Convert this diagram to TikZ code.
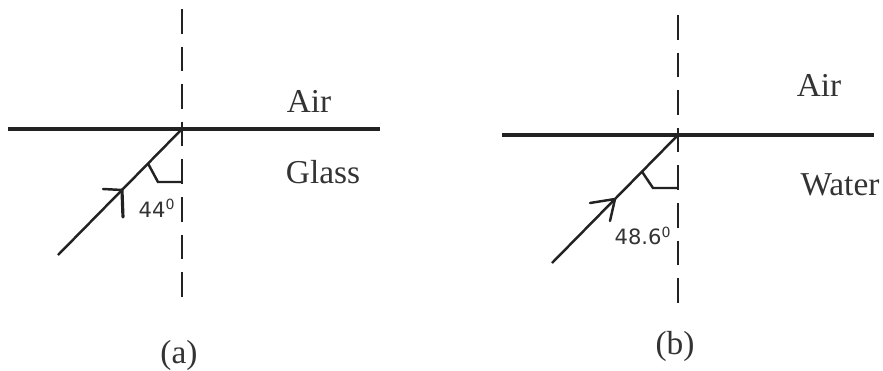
\documentclass[tikz,border=0pt]{standalone}
\usepackage{fontspec}
\setmainfont{Liberation Serif}
\newfontfamily\anglefont{DejaVu Sans}
\usepackage{xcolor}
\definecolor{ink}{HTML}{222222}
\definecolor{label}{HTML}{333333}

\begin{document}
\begin{tikzpicture}[
    x=0.02cm, y=-0.02cm,
    surface/.style={draw=ink, line width=1.9pt},
    normal/.style={draw=ink, line width=1.4pt, dash pattern=on 14pt off 7.4pt},
    ray/.style={draw=ink, line width=1.4pt},
    barb/.style={draw=ink, line width=1.4pt, line cap=round},
    medium/.style={font=\fontsize{19}{22}\selectfont, text=label, anchor=base, inner sep=0pt},
    anglab/.style={font=\anglefont\fontsize{12}{14}\selectfont, text=label, inner sep=0pt},
    panel/.style={font=\fontsize{19}{22}\selectfont, text=label, anchor=base, inner sep=0pt}
]
\useasboundingbox (0,0) rectangle (883,370);

% Panel (a): glass to air.
\coordinate (topA) at (182,9);
\coordinate (botA) at (182,305);
\coordinate (leftA) at (8,129);
\coordinate (rightA) at (380,129);
\coordinate (OA) at (182,129);
\coordinate (srcA) at (58,255);
\draw[normal] (topA) -- (botA);
\draw[surface] (leftA) -- (rightA);
\draw[ray] (srcA) -- (OA) coordinate[pos=0.516] (tipA) coordinate[pos=0.726] (markA);
\coordinate (cornerA) at (158,182);
\coordinate (footA) at (182,182);
\draw[ray] (markA) -- (cornerA) -- (footA);
\draw[barb] (tipA) -- ++(-19,-1);
\draw[barb, line width=1.8pt] (tipA) -- ++(1,27);
\node[anglab] (angA) at (157,208) {44\textsuperscript{0}};
\node[medium] (airA) at (309,112) {Air};
\node[medium] (glassA) at (323,183) {Glass};
\node[panel] (capA) at (179,363) {(a)};

% Panel (b): water to air.
\coordinate (topB) at (678,15);
\coordinate (botB) at (678,310);
\coordinate (leftB) at (502,135);
\coordinate (rightB) at (874,135);
\coordinate (OB) at (678,135);
\coordinate (srcB) at (552,263);
\draw[normal] (topB) -- (botB);
\draw[surface] (leftB) -- (rightB);
\draw[ray] (srcB) -- (OB) coordinate[pos=0.5] (tipB) coordinate[pos=0.714] (markB);
\coordinate (cornerB) at (653,188);
\coordinate (footB) at (678,188);
\draw[ray] (markB) -- (cornerB) -- (footB);
\draw[barb] (tipB) -- ++(-25,4);
\draw[barb] (tipB) -- ++(-5,22);
\node[anglab] (angB) at (643,236) {48.6\textsuperscript{0}};
\node[medium] (airB) at (819,96) {Air};
\node[medium] (waterB) at (840,195) {Water};
\node[panel] (capB) at (675,354) {(b)};
\end{tikzpicture}
\end{document}
